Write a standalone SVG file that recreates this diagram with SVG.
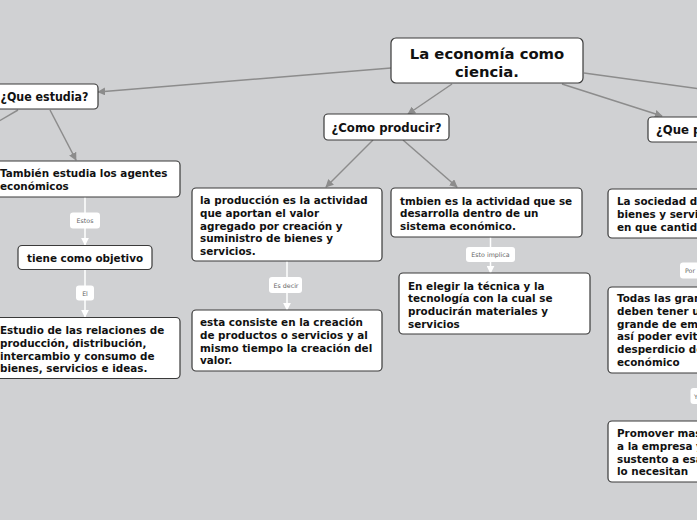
<svg xmlns="http://www.w3.org/2000/svg" width="697" height="520" viewBox="0 0 697 520">
<defs>
<marker id="ag" viewBox="0 0 10 10" refX="9" refY="5" markerWidth="8" markerHeight="8" markerUnits="userSpaceOnUse" orient="auto"><path d="M0,0 L10,5 L0,10 z" fill="#8c8c8c"/></marker>
<marker id="aw" viewBox="0 0 10 10" refX="9" refY="5" markerWidth="8" markerHeight="8" markerUnits="userSpaceOnUse" orient="auto"><path d="M0,0 L10,5 L0,10 z" fill="#ffffff"/></marker>
<style>
.n{fill:#fff;stroke:#3a3a3a;stroke-width:1.2}
.t{font-family:"DejaVu Sans",Verdana,sans-serif;font-weight:bold;fill:#111}
.r{font-size:14.8px}
.h{font-size:11.7px}
.c{font-size:10.4px}
.g{fill:none;stroke:#8c8c8c;stroke-width:1.5}
.w{fill:none;stroke:#fff;stroke-width:1.5}
.lb{fill:#fff;stroke:none}
.lt{font-family:"DejaVu Sans",Verdana,sans-serif;font-size:6.3px;fill:#666}
</style>
</defs>
<rect width="697" height="520" fill="#d0d1d3"/>
<g id="connectors">
<line class="g" x1="391" y1="68" x2="98" y2="92" marker-end="url(#ag)"/>
<line class="g" x1="452" y1="84" x2="408" y2="114" marker-end="url(#ag)"/>
<line class="g" x1="562" y1="84" x2="662" y2="116" marker-end="url(#ag)"/>
<line class="g" x1="584" y1="73" x2="760" y2="97"/>
<line class="g" x1="18" y1="110" x2="-30" y2="138"/>
<line class="g" x1="50" y1="110" x2="76" y2="160" marker-end="url(#ag)"/>
<line class="g" x1="373" y1="140" x2="326" y2="187" marker-end="url(#ag)"/>
<line class="g" x1="403" y1="140" x2="457" y2="187" marker-end="url(#ag)"/>
<line class="w" x1="85" y1="197" x2="85" y2="245" marker-end="url(#aw)"/>
<line class="w" x1="85" y1="269" x2="85" y2="317" marker-end="url(#aw)"/>
<line class="w" x1="287" y1="261" x2="287" y2="310" marker-end="url(#aw)"/>
<line class="w" x1="490.5" y1="237" x2="490.5" y2="273" marker-end="url(#aw)"/>
</g>
<g id="lbl-estos"><rect class="lb" x="70" y="212.5" width="30" height="16" rx="3"/><text class="lt" x="85" y="223" text-anchor="middle">Estos</text></g>
<g id="lbl-el"><rect class="lb" x="76" y="285.5" width="18" height="15" rx="3"/><text class="lt" x="85" y="295.5" text-anchor="middle">El</text></g>
<g id="lbl-esdecir"><rect class="lb" x="269" y="277" width="33" height="16" rx="3"/><text class="lt" x="286" y="287.5" text-anchor="middle">Es decir</text></g>
<g id="lbl-esto"><rect class="lb" x="466" y="247" width="49" height="15" rx="3"/><text class="lt" x="490.5" y="257" text-anchor="middle">Esto implica</text></g>
<g id="lbl-por"><rect class="lb" x="680" y="262.5" width="40" height="16" rx="3"/><text class="lt" x="685" y="273">Por</text></g>
<g id="lbl-y"><rect class="lb" x="690.5" y="388" width="30" height="16" rx="3"/><text class="lt" x="694" y="398.5">Y</text></g>
<g id="root"><rect class="n" x="391" y="38" width="192" height="45" rx="5"/>
<text class="t r" x="487" y="59" text-anchor="middle">La economía como</text>
<text class="t r" x="487" y="76.5" text-anchor="middle">ciencia.</text></g>
<g id="que-estudia"><rect class="n" x="-6" y="84" width="104" height="25" rx="4"/>
<text class="t h" x="0.5" y="101" textLength="88" lengthAdjust="spacingAndGlyphs">¿Que estudia?</text></g>
<g id="como-producir"><rect class="n" x="324" y="114" width="125" height="26" rx="4"/>
<text class="t h" x="386.5" y="131.5" text-anchor="middle">¿Como producir?</text></g>
<g id="que-producir"><rect class="n" x="648" y="117" width="120" height="25" rx="4"/>
<text class="t h" x="656" y="133.5">¿Que producir?</text></g>
<g id="tambien"><rect class="n" x="-6" y="161" width="186" height="36" rx="4"/>
<text class="t c" x="0" y="177">También estudia los agentes</text>
<text class="t c" x="0" y="190">económicos</text></g>
<g id="tiene"><rect class="n" x="18" y="245.5" width="134" height="24" rx="4"/>
<text class="t c" x="85" y="261.5" text-anchor="middle">tiene como objetivo</text></g>
<g id="estudio"><rect class="n" x="-6" y="317.5" width="186" height="61" rx="4"/>
<text class="t c" x="0" y="334">Estudio de las relaciones de</text>
<text class="t c" x="0" y="346.8">producción, distribución,</text>
<text class="t c" x="0" y="359.6">intercambio y consumo de</text>
<text class="t c" x="0" y="372.4">bienes, servicios e ideas.</text></g>
<g id="produccion"><rect class="n" x="192" y="188" width="190" height="73" rx="4"/>
<text class="t c" x="200" y="204">la producción es la actividad</text>
<text class="t c" x="200" y="216.8">que aportan el valor</text>
<text class="t c" x="200" y="229.6">agregado por creación y</text>
<text class="t c" x="200" y="242.4">suministro de bienes y</text>
<text class="t c" x="200" y="255.2">servicios.</text></g>
<g id="consiste"><rect class="n" x="192" y="310" width="190" height="61" rx="4"/>
<text class="t c" x="200" y="326">esta consiste en la creación</text>
<text class="t c" x="200" y="338.8">de productos o servicios y al</text>
<text class="t c" x="200" y="351.6">mismo tiempo la creación del</text>
<text class="t c" x="200" y="364.4">valor.</text></g>
<g id="tmbien"><rect class="n" x="391" y="188" width="191" height="49" rx="4"/>
<text class="t c" x="400" y="204.5">tmbien es la actividad que se</text>
<text class="t c" x="400" y="217.3">desarrolla dentro de un</text>
<text class="t c" x="400" y="230.1">sistema económico.</text></g>
<g id="elegir"><rect class="n" x="399" y="273" width="191" height="61" rx="4"/>
<text class="t c" x="408" y="289.5">En elegir la técnica y la</text>
<text class="t c" x="408" y="302.3">tecnología con la cual se</text>
<text class="t c" x="408" y="315.1">producirán materiales y</text>
<text class="t c" x="408" y="327.9">servicios</text></g>
<g id="sociedad"><rect class="n" x="608" y="189" width="140" height="49" rx="4"/>
<text class="t c" x="617" y="205">La sociedad decide</text>
<text class="t c" x="617" y="217.8">bienes y servicios</text>
<text class="t c" x="617" y="230.6">en que cantidad</text></g>
<g id="todas"><rect class="n" x="608" y="287" width="140" height="86" rx="4"/>
<text class="t c" x="617" y="302">Todas las grandes</text>
<text class="t c" x="617" y="314.8">deben tener un</text>
<text class="t c" x="617" y="327.6">grande de empleo</text>
<text class="t c" x="617" y="340.4">así poder evitar</text>
<text class="t c" x="617" y="353.2">desperdicio del</text>
<text class="t c" x="617" y="366">económico</text></g>
<g id="promover"><rect class="n" x="608" y="421" width="140" height="61" rx="4"/>
<text class="t c" x="617" y="437">Promover mas</text>
<text class="t c" x="617" y="449.8">a la empresa y</text>
<text class="t c" x="617" y="462.6">sustento a esas</text>
<text class="t c" x="617" y="475.4">lo necesitan</text></g>
</svg>
